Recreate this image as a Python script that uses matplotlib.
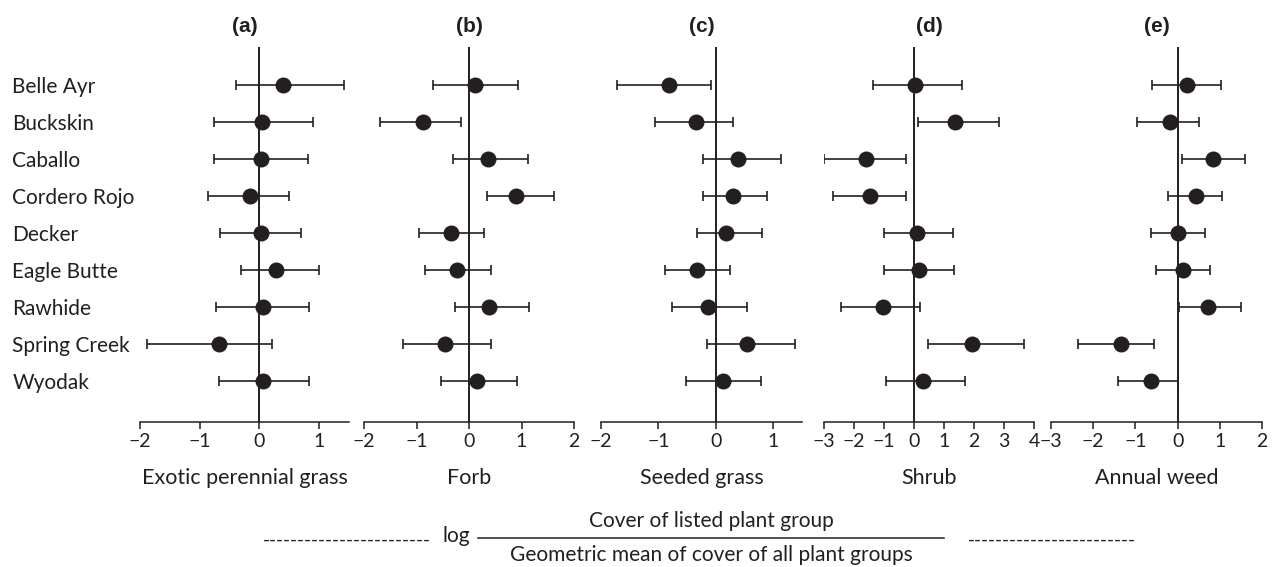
import matplotlib.pyplot as plt

plt.rcParams['font.family'] = ['Lato', 'DejaVu Sans']

INK = "#231f20"

sites = ["Belle Ayr", "Buckskin", "Caballo", "Cordero Rojo", "Decker",
         "Eagle Butte", "Rawhide", "Spring Creek", "Wyodak"]

groups = ["Exotic perennial grass", "Forb", "Seeded grass", "Shrub", "Annual weed"]
panel_tags = ["(a)", "(b)", "(c)", "(d)", "(e)"]

# mean log-ratio and the lower / upper ends of each interval
exotic_mean = [0.40, 0.05, 0.03, -0.15, 0.03, 0.28, 0.06, -0.67, 0.06]
exotic_lo = [-0.39, -0.76, -0.76, -0.86, -0.66, -0.31, -0.73, -1.88, -0.68]
exotic_hi = [1.41, 0.89, 0.81, 0.49, 0.70, 0.99, 0.83, 0.21, 0.83]

forb_mean = [0.12, -0.88, 0.36, 0.90, -0.35, -0.23, 0.38, -0.45, 0.15]
forb_lo = [-0.69, -1.70, -0.30, 0.35, -0.96, -0.84, -0.27, -1.25, -0.53]
forb_hi = [0.94, -0.15, 1.12, 1.62, 0.29, 0.41, 1.14, 0.41, 0.91]

seeded_mean = [-0.81, -0.35, 0.39, 0.29, 0.18, -0.33, -0.13, 0.54, 0.12]
seeded_lo = [-1.73, -1.06, -0.22, -0.22, -0.33, -0.89, -0.76, -0.16, -0.52]
seeded_hi = [-0.08, 0.30, 1.14, 0.89, 0.81, 0.24, 0.54, 1.37, 0.78]

shrub_mean = [0.04, 1.36, -1.59, -1.47, 0.11, 0.15, -1.04, 1.93, 0.31]
shrub_lo = [-1.36, 0.14, -3.01, -2.69, -0.99, -0.99, -2.44, 0.45, -0.93]
shrub_hi = [1.60, 2.83, -0.26, -0.26, 1.30, 1.34, 0.20, 3.66, 1.69]

weed_mean = [0.23, -0.18, 0.83, 0.44, 0.02, 0.12, 0.73, -1.35, -0.63]
weed_lo = [-0.60, -0.97, 0.10, -0.22, -0.63, -0.52, 0.03, -2.35, -1.42]
weed_hi = [1.03, 0.51, 1.59, 1.06, 0.66, 0.76, 1.51, -0.56, 0.02]

means = [exotic_mean, forb_mean, seeded_mean, shrub_mean, weed_mean]
lows = [exotic_lo, forb_lo, seeded_lo, shrub_lo, weed_lo]
highs = [exotic_hi, forb_hi, seeded_hi, shrub_hi, weed_hi]

xlims = [(-2, 1.5), (-2, 2), (-2, 1.5), (-3, 4), (-3, 2)]
xticks = [range(-2, 2), range(-2, 3), range(-2, 2), range(-3, 5), range(-3, 3)]

W, H = 1277, 567
fig = plt.figure(figsize=(W / 100, H / 100), dpi=100)

# panel extents in pixels (left, right)
panel_px = [(140, 349), (364, 574), (601, 802), (824, 1034), (1051, 1262)]
top_px, bot_px = 47, 422

ypos = list(range(len(sites)))

for k in range(5):
    l, r = panel_px[k]
    ax = fig.add_axes([l / W, 1 - bot_px / H, (r - l) / W, (bot_px - top_px) / H])
    m = means[k]
    err = [[mi - lo for mi, lo in zip(m, lows[k])],
           [hi - mi for mi, hi in zip(m, highs[k])]]
    ax.axvline(0, color=INK, lw=1.4, zorder=1)
    ax.errorbar(m, ypos, xerr=err, fmt='o', color=INK, ms=10.5,
                elinewidth=1.2, capsize=3.3, capthick=1.2, zorder=3)
    ax.set_xlim(*xlims[k])
    ax.set_ylim(len(sites) - 1 + 1.1, -1.03)
    ax.set_xticks(list(xticks[k]))
    ax.set_xticklabels([f"{v}".replace("-", "\u2212") for v in xticks[k]])
    for s in ("left", "right", "top"):
        ax.spines[s].set_visible(False)
    ax.spines["bottom"].set_color(INK)
    ax.spines["bottom"].set_linewidth(1.1)
    ax.tick_params(axis="x", direction="out", length=5, width=1.1, color=INK,
                   labelsize=14, labelcolor=INK, pad=3)
    ax.set_xlabel(groups[k], fontsize=15.5, color=INK, labelpad=13)
    ax.set_title(panel_tags[k], fontsize=15, fontweight="bold",
                 family="Liberation Sans", color=INK, pad=11)
    if k == 0:
        ax.set_yticks(ypos)
        ax.set_yticklabels(sites, fontsize=15, color=INK, ha="left")
        ax.tick_params(axis="y", length=0, pad=92)
    else:
        ax.set_yticks([])

# shared axis label: log ratio written as a fraction
dashes = "-" * 24
fig.text(347 / W, 1 - 540 / H, dashes, ha="center", va="center",
         fontsize=13.7, color=INK)
fig.text(1052 / W, 1 - 540 / H, dashes, ha="center", va="center",
         fontsize=13.7, color=INK)
fig.text(456 / W, 1 - 536 / H, "log", ha="center", va="center",
         fontsize=15, color=INK)
fig.add_artist(plt.Line2D([478 / W, 944 / W], [1 - 538 / H, 1 - 538 / H],
                          color=INK, lw=1.1))
fig.text(711 / W, 1 - 521 / H, "Cover of listed plant group", ha="center",
         va="center", fontsize=15, color=INK)
fig.text(711 / W, 1 - 555 / H, "Geometric mean of cover of all plant groups",
         ha="center", va="center", fontsize=15, color=INK)

fig.savefig("out.png", dpi=100)
